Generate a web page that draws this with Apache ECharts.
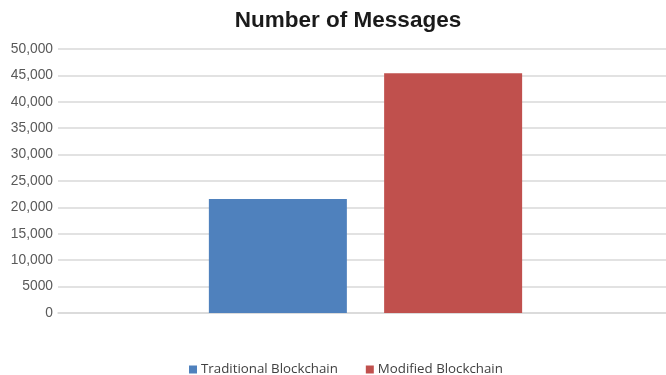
<!DOCTYPE html>
<html>
<head>
<meta charset="utf-8">
<script src="https://cdn.jsdelivr.net/npm/echarts@6/dist/echarts.min.js"></script>
<style>
  html, body { margin: 0; padding: 0; background: #fff; overflow: hidden; }
  #chart { width: 666px; height: 375px; }
</style>
</head>
<body>
<div id="chart"></div>
<script>
// Message counts per blockchain variant
const categories = ['Number of Messages'];
const seriesNames = ['Traditional Blockchain', 'Modified Blockchain'];
const traditionalValues = [21600];
const modifiedValues = [45400];
const seriesColors = ['#4f81bd', '#c0504d'];

const chart = echarts.init(document.getElementById('chart'));

chart.setOption({
  animation: false,
  backgroundColor: '#ffffff',
  title: {
    text: 'Number of Messages',
    left: 343,
    top: 4,
    textAlign: 'center',
    textStyle: {
      fontFamily: 'Liberation Sans, Arial, sans-serif',
      fontWeight: 'bold',
      fontSize: 22.5,
      color: '#1a1a1a'
    }
  },
  legend: {
    data: seriesNames,
    left: 184,
    top: 358,
    itemWidth: 8,
    itemHeight: 8,
    itemGap: 28,
    icon: 'rect',
    textStyle: {
      fontFamily: 'Open Sans, sans-serif',
      fontSize: 13.3,
      color: '#404040',
      padding: [0, 0, 0, -1]
    }
  },
  grid: {
    left: 58,
    right: -7,
    top: 49,
    height: 264,
    containLabel: false,
    outerBoundsMode: 'none'
  },
  xAxis: {
    type: 'category',
    data: categories,
    axisLine: { show: true, lineStyle: { color: '#d9d9d9', width: 1.5 } },
    axisTick: { show: false },
    axisLabel: { show: false }
  },
  yAxis: {
    type: 'value',
    min: 0,
    max: 50000,
    interval: 5000,
    axisLine: { show: false },
    axisTick: { show: false },
    splitLine: { lineStyle: { color: '#d9d9d9', width: 1.5 } },
    axisLabel: {
      margin: 5,
      fontFamily: 'Liberation Sans, Arial, sans-serif',
      fontSize: 13.8,
      color: '#595959',
      formatter: function (v) {
        return v >= 10000 ? v.toLocaleString('en-US') : String(v);
      }
    }
  },
  series: [
    {
      name: seriesNames[0],
      type: 'bar',
      data: traditionalValues,
      barWidth: 138,
      barGap: '27%',
      itemStyle: { color: seriesColors[0] }
    },
    {
      name: seriesNames[1],
      type: 'bar',
      data: modifiedValues,
      barWidth: 138,
      barGap: '27%',
      itemStyle: { color: seriesColors[1] }
    }
  ]
});
</script>
</body>
</html>
